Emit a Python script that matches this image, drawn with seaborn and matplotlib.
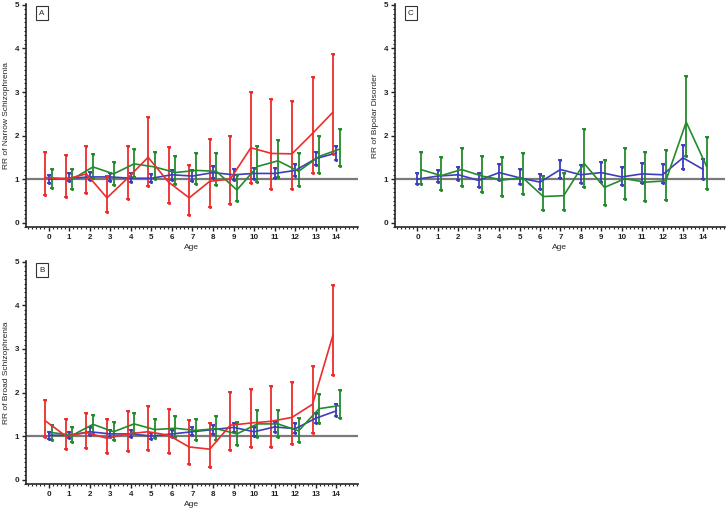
import numpy as np
import pandas as pd
import matplotlib
matplotlib.use("Agg")
import matplotlib.pyplot as plt
import seaborn as sns
from matplotlib.ticker import MultipleLocator

ages = list(range(15))

# Panel A: RR of narrow schizophrenia
a_red = [1.04, 1.0, 1.12, 0.57, 1.02, 1.5, 0.93, 0.57, 0.95, 1.0, 1.72, 1.59, 1.58, 2.05, 2.54]
a_red_lo = [0.63, 0.6, 0.67, 0.25, 0.55, 0.85, 0.45, 0.17, 0.35, 0.42, 0.9, 0.78, 0.78, 1.15, 1.58]
a_red_hi = [1.63, 1.55, 1.75, 1.07, 1.76, 2.42, 1.74, 1.33, 1.91, 2.0, 3.0, 2.83, 2.8, 3.35, 3.88]
a_blue = [1.0, 1.02, 1.05, 1.05, 1.02, 1.02, 1.1, 1.07, 1.15, 1.1, 1.13, 1.13, 1.2, 1.47, 1.6]
a_blue_lo = [0.92, 0.95, 0.97, 0.96, 0.94, 0.93, 0.98, 0.96, 1.02, 0.97, 1.0, 1.02, 1.07, 1.32, 1.45]
a_blue_hi = [1.1, 1.15, 1.17, 1.15, 1.13, 1.12, 1.22, 1.2, 1.3, 1.23, 1.25, 1.26, 1.35, 1.62, 1.75]
a_green = [1.02, 1.0, 1.28, 1.12, 1.35, 1.28, 1.15, 1.2, 1.18, 0.75, 1.29, 1.42, 1.18, 1.52, 1.69]
a_green_lo = [0.8, 0.78, 1.02, 0.87, 1.05, 1.0, 0.88, 0.88, 0.87, 0.5, 0.93, 1.04, 0.84, 1.15, 1.31]
a_green_hi = [1.23, 1.24, 1.58, 1.4, 1.7, 1.63, 1.52, 1.6, 1.6, 1.1, 1.75, 1.89, 1.59, 1.99, 2.16]

# Panel B: RR of broad schizophrenia
b_red = [1.35, 1.0, 1.08, 0.95, 1.05, 1.1, 1.02, 0.75, 0.7, 1.25, 1.3, 1.34, 1.43, 1.73, 3.33]
b_red_lo = [0.97, 0.7, 0.73, 0.61, 0.66, 0.68, 0.62, 0.35, 0.3, 0.68, 0.74, 0.76, 0.82, 1.08, 2.4]
b_red_hi = [1.83, 1.4, 1.52, 1.4, 1.57, 1.68, 1.63, 1.37, 1.3, 2.01, 2.09, 2.16, 2.25, 2.6, 4.47]
b_blue = [1.02, 1.02, 1.1, 1.05, 1.05, 1.0, 1.05, 1.1, 1.15, 1.2, 1.1, 1.21, 1.17, 1.41, 1.58]
b_blue_lo = [0.93, 0.95, 1.02, 0.97, 0.97, 0.93, 0.97, 1.02, 1.05, 1.1, 1.0, 1.1, 1.07, 1.29, 1.45]
b_blue_hi = [1.1, 1.1, 1.2, 1.13, 1.13, 1.08, 1.14, 1.2, 1.25, 1.3, 1.2, 1.32, 1.3, 1.52, 1.73]
b_green = [1.08, 1.02, 1.27, 1.1, 1.28, 1.15, 1.18, 1.13, 1.17, 1.05, 1.28, 1.28, 1.12, 1.63, 1.7]
b_green_lo = [0.92, 0.87, 1.05, 0.92, 1.06, 0.95, 0.97, 0.9, 0.92, 0.8, 0.99, 0.99, 0.87, 1.31, 1.41]
b_green_hi = [1.25, 1.2, 1.48, 1.32, 1.53, 1.4, 1.45, 1.4, 1.46, 1.33, 1.6, 1.6, 1.41, 1.97, 2.05]

# Panel C: RR of bipolar disorder
c_blue = [1.0, 1.07, 1.1, 0.97, 1.15, 1.03, 0.93, 1.22, 1.1, 1.15, 1.05, 1.12, 1.1, 1.49, 1.22]
c_blue_lo = [0.88, 0.93, 0.97, 0.82, 0.98, 0.88, 0.78, 1.03, 0.9, 0.93, 0.86, 0.92, 0.9, 1.23, 1.0]
c_blue_hi = [1.13, 1.22, 1.27, 1.13, 1.35, 1.23, 1.12, 1.45, 1.33, 1.39, 1.28, 1.37, 1.34, 1.78, 1.47]
c_green = [1.22, 1.08, 1.22, 1.07, 0.98, 1.03, 0.6, 0.62, 1.36, 0.81, 1.01, 0.93, 0.96, 2.31, 1.29]
c_green_lo = [0.88, 0.75, 0.85, 0.7, 0.62, 0.65, 0.3, 0.3, 0.81, 0.41, 0.54, 0.49, 0.51, 1.54, 0.78]
c_green_hi = [1.63, 1.5, 1.71, 1.53, 1.5, 1.6, 1.07, 1.15, 2.16, 1.44, 1.72, 1.63, 1.66, 3.36, 1.97]

colors = {"red": "#ee2c2c", "blue": "#3d3dbd", "green": "#238b2c"}
offsets = {"red": -0.16, "blue": 0.0, "green": 0.16}


def make_df(series):
    rows = []
    for grp, (rr, lo, hi) in series.items():
        for a, r, l, h in zip(ages, rr, lo, hi):
            rows.append({"age": a, "x": a + offsets[grp], "rr": r, "lo": l, "hi": h, "group": grp})
    return pd.DataFrame(rows)


panels = [
    ("A", "RR of Narrow Schizophrenia", [0.0357, 0.5566, 0.456, 0.4355],
     {"blue": (a_blue, a_blue_lo, a_blue_hi), "green": (a_green, a_green_lo, a_green_hi),
      "red": (a_red, a_red_lo, a_red_hi)}),
    ("B", "RR of Broad Schizophrenia", [0.0357, 0.0547, 0.456, 0.4355],
     {"blue": (b_blue, b_blue_lo, b_blue_hi), "green": (b_green, b_green_lo, b_green_hi),
      "red": (b_red, b_red_lo, b_red_hi)}),
    ("C", "RR of Bipolar Disorder", [0.5426, 0.5566, 0.453, 0.4355],
     {"blue": (c_blue, c_blue_lo, c_blue_hi), "green": (c_green, c_green_lo, c_green_hi)}),
]

sns.set_style("ticks")
plt.rcParams["font.family"] = ["Liberation Sans", "DejaVu Sans"]

fig = plt.figure(figsize=(7.28, 5.12), dpi=100)

for label, ylabel, rect, series in panels:
    ax = fig.add_axes(rect)
    df = make_df(series)
    ax.axhline(1, color="#7a7a7a", lw=1.6, zorder=1)
    for grp in series:
        sub = df[df["group"] == grp]
        c = colors[grp]
        ax.errorbar(sub["x"], sub["rr"], yerr=[sub["rr"] - sub["lo"], sub["hi"] - sub["rr"]],
                    fmt="none", ecolor=c, elinewidth=1.3, capsize=1.3, capthick=1.3, zorder=2)
        ax.scatter(sub["x"], sub["lo"], s=5, color=c, zorder=3, linewidths=0)
        ax.scatter(sub["x"], sub["hi"], s=5, color=c, zorder=3, linewidths=0)
        sns.lineplot(data=sub, x="x", y="rr", color=c, lw=1.2, ax=ax, zorder=3,
                     estimator=None, sort=True)
    ax.set_xlim(-1.1, 15.05)
    ax.set_ylim(-0.1, 5.02)
    ax.set_xticks(ages)
    ax.set_yticks(range(6))
    ax.xaxis.set_minor_locator(MultipleLocator(0.2))
    ax.yaxis.set_minor_locator(MultipleLocator(0.1))
    ax.tick_params(axis="both", which="major", length=3, width=1, labelsize=5.8, pad=2,
                   colors="#222222")
    ax.tick_params(axis="both", which="minor", length=1.5, width=0.8)
    for t in ax.get_xticklabels() + ax.get_yticklabels():
        t.set_fontweight("bold")
    ax.set_xlabel("Age", fontsize=6, labelpad=2)
    ax.set_ylabel(ylabel, fontsize=6, labelpad=3)
    for s in ["left", "bottom"]:
        ax.spines[s].set_linewidth(1.2)
    sns.despine(ax=ax)
    ax.text(0.048, 0.975, label, transform=ax.transAxes, fontsize=5.8, ha="center", va="top",
            bbox=dict(boxstyle="square,pad=0.4", fc="white", ec="#333333", lw=0.8))

fig.savefig("out.png", dpi=100)
